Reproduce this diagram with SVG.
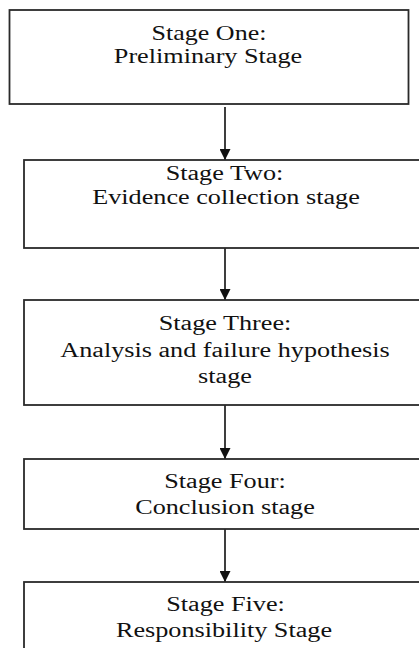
<svg xmlns="http://www.w3.org/2000/svg" width="419" height="648" viewBox="0 0 419 648">
<style>
.box{fill:#fff;stroke:#2a2a2a;stroke-width:1.8}
.t{font-family:"Liberation Serif","Times New Roman",serif;font-size:20px;fill:#111;text-anchor:middle}
.c{stroke:#2a2a2a;stroke-width:1.8;fill:none;marker-end:url(#ah)}
</style>
<defs>
<marker id="ah" viewBox="0 0 11 11" refX="11" refY="5.5" markerWidth="11" markerHeight="11" markerUnits="userSpaceOnUse" orient="auto">
<path d="M0,0 L11,5.5 L0,11 z" fill="#111"/>
</marker>
</defs>
<rect width="419" height="648" fill="#fff"/>
<g id="connectors">
<line class="c" x1="225" y1="107" x2="225" y2="160"/>
<line class="c" x1="225" y1="248" x2="225" y2="300"/>
<line class="c" x1="225" y1="405" x2="225" y2="459"/>
<line class="c" x1="225" y1="529" x2="225" y2="582"/>
</g>
<g id="stage1">
<rect class="box" x="9.5" y="10" width="399" height="94"/>
<text class="t" font-family="Liberation Serif" transform="translate(209 40) scale(1.3 1)">Stage One:</text>
<text class="t" font-family="Liberation Serif" transform="translate(208 63) scale(1.31 1)">Preliminary Stage</text>
</g>
<g id="stage2">
<rect class="box" x="24" y="160" width="402" height="88"/>
<text class="t" font-family="Liberation Serif" transform="translate(224.5 180) scale(1.31 1)">Stage Two:</text>
<text class="t" font-family="Liberation Serif" transform="translate(226 204) scale(1.31 1)">Evidence collection stage</text>
</g>
<g id="stage3">
<rect class="box" x="24" y="300" width="402" height="105"/>
<text class="t" font-family="Liberation Serif" transform="translate(225 330) scale(1.31 1)">Stage Three:</text>
<text class="t" font-family="Liberation Serif" transform="translate(225 357) scale(1.31 1)">Analysis and failure hypothesis</text>
<text class="t" font-family="Liberation Serif" transform="translate(225 383) scale(1.31 1)">stage</text>
</g>
<g id="stage4">
<rect class="box" x="24" y="459" width="402" height="70"/>
<text class="t" font-family="Liberation Serif" transform="translate(225 488) scale(1.31 1)">Stage Four:</text>
<text class="t" font-family="Liberation Serif" transform="translate(225 514) scale(1.31 1)">Conclusion stage</text>
</g>
<g id="stage5">
<rect class="box" x="24" y="582" width="402" height="80"/>
<text class="t" font-family="Liberation Serif" transform="translate(225.5 611) scale(1.31 1)">Stage Five:</text>
<text class="t" font-family="Liberation Serif" transform="translate(224 637) scale(1.31 1)">Responsibility Stage</text>
</g>
</svg>
